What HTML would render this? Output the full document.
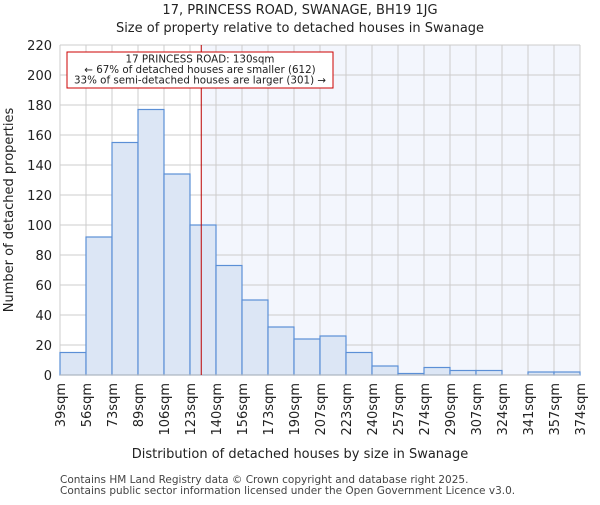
<!DOCTYPE html>
<html><head><meta charset="utf-8"><style>
body{margin:0;background:#fff;}
svg{font-family:"DejaVu Sans","Liberation Sans",sans-serif;}
</style></head><body>
<svg id="chart" width="600" height="500">
<text x="300" y="14" text-anchor="middle" font-size="13" fill="#222">17, PRINCESS ROAD, SWANAGE, BH19 1JG</text>
<text x="300" y="32" text-anchor="middle" font-size="13" fill="#222">Size of property relative to detached houses in Swanage</text>
<g id="plot"></g>
<text x="300" y="458" text-anchor="middle" font-size="13" fill="#222">Distribution of detached houses by size in Swanage</text>
<text transform="translate(13,210) rotate(-90)" text-anchor="middle" font-size="13" fill="#222">Number of detached properties</text>
<text x="60" y="483" font-size="10.5" fill="#444">Contains HM Land Registry data © Crown copyright and database right 2025.</text>
<text x="60" y="494" font-size="10.5" fill="#444">Contains public sector information licensed under the Open Government Licence v3.0.</text>
</svg>
<script>
const categories=["39sqm","56sqm","73sqm","89sqm","106sqm","123sqm","140sqm","156sqm","173sqm","190sqm","207sqm","223sqm","240sqm","257sqm","274sqm","290sqm","307sqm","324sqm","341sqm","357sqm","374sqm"];
const counts=[15,92,155,177,134,100,73,50,32,24,26,15,6,1,5,3,3,0,2,2];
const yTicks=[0,20,40,60,80,100,120,140,160,180,200,220];
const markerValue=130;
const binStart=39, binWidth=16.75;
const X0=60,X1=580,Y0=375,Y1=45,YMAX=220;
const NS="http://www.w3.org/2000/svg";
const g=document.getElementById('plot');
const xs=i=>X0+i*(X1-X0)/counts.length;
const ys=v=>Y0-v*(Y0-Y1)/YMAX;
const xv=v=>X0+(v-binStart)/binWidth*(X1-X0)/counts.length;
function mk(t,a){const e=document.createElementNS(NS,t);for(const k in a)e.setAttribute(k,a[k]);g.appendChild(e);return e;}
const mx=xv(markerValue);
let sh=mk('rect',{x:mx,y:Y1,width:X1-mx,height:Y0-Y1,fill:'#f3f6fd'});


for(let i=0;i<=counts.length;i++){let l=mk('line',{x1:xs(i),x2:xs(i),y1:Y1,y2:Y0,stroke:'#ccc','stroke-width':1});

}
yTicks.forEach(v=>{let l=mk('line',{x1:X0,x2:X1,y1:ys(v),y2:ys(v),stroke:'#ccc','stroke-width':1});


let t=mk('text',{x:X0-8,y:ys(v)+5,'text-anchor':'end','font-size':13,fill:'#222'});t.textContent=v;

});
counts.forEach((c,i)=>{if(c<=0)return;let r=mk('rect',{x:xs(i),y:ys(c),width:xs(i+1)-xs(i),height:Y0-ys(c),fill:'#dce6f5',stroke:'#5b8fd6','stroke-width':1.2});

});
categories.forEach((c,i)=>{let t=mk('text',{transform:`translate(${xs(i)+5},${Y0+8}) rotate(-90)`,'text-anchor':'end','font-size':13,fill:'#222'});t.textContent=c;

});
let ax=mk('line',{x1:X0,x2:X1,y1:Y0,y2:Y0,stroke:'#bbb','stroke-width':1});


let ml=mk('line',{x1:mx,x2:mx,y1:Y1,y2:Y0,stroke:'#b00','stroke-width':1});


let bx=mk('rect',{x:67,y:52,width:266,height:36,fill:'#fff',stroke:'#c00','stroke-width':1});


["17 PRINCESS ROAD: 130sqm","← 67% of detached houses are smaller (612)","33% of semi-detached houses are larger (301) →"].forEach((s,i)=>{let t=mk('text',{x:200,y:62.5+i*10.5,'text-anchor':'middle','font-size':10.3,fill:'#222'});t.textContent=s;

});
</script>
</body></html>
